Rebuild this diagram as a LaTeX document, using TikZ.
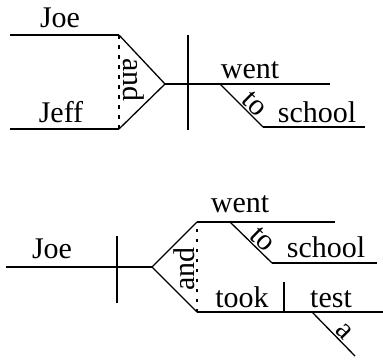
\documentclass[tikz,border=0pt]{standalone}
\usepackage{fontspec}
\setmainfont{Liberation Serif}

\begin{document}
\begin{tikzpicture}[x = 1pt, y = -1pt, line width = 1.3pt,
	every node/.style = {font = \fontsize{30}{32}\selectfont, inner sep = 1.5pt},
	word/.style = {anchor = base},
	slant/.style = {sloped, anchor = south},
	joint/.style = {dash pattern = on 3.5pt off 6.5pt}]

	\useasboundingbox (0, 0) rectangle (383, 359);

	% Joe and Jeff went to school
	\coordinate (JoeL)  at ( 10,  35);
	\coordinate (JoeR)  at (119,  35);
	\coordinate (JeffL) at ( 10, 129);
	\coordinate (JeffR) at (119, 129);
	\coordinate (Fork)  at (165,  84);
	\coordinate (Verb)  at (330,  84);
	\coordinate (CutT)  at (188,  35);
	\coordinate (CutB)  at (188, 130);
	\coordinate (ToA)   at (220,  84);
	\coordinate (ToB)   at (263, 127);
	\coordinate (ToC)   at (365, 127);

	\node (Joe)    at ( 60,  27) [word] {Joe};
	\node (Jeff)   at ( 61, 122) [word] {Jeff};
	\node (Went)   at (250,  78) [word] {went};
	\node (School) at (317, 122) [word] {school};

	\foreach \from/\to in {JoeL/JoeR, JoeR/Fork, JeffL/JeffR, JeffR/Fork,
	Fork/Verb, CutT/CutB, ToA/ToB, ToB/ToC}
		\draw (\from) -- (\to);
	\path[draw, joint] (JoeR) -- node (And) [slant, pos = 0.48, inner sep = 4pt] {and} (JeffR);
	\path (ToA) -- node (To) [slant, pos = 0.64, inner sep = 1pt] {to} (ToB);

	% Joe went to school and took a test
	\coordinate (SubL)  at (  6, 267);
	\coordinate (Fork2) at (152, 267);
	\coordinate (Cut2T) at (117, 236);
	\coordinate (Cut2B) at (117, 303);
	\coordinate (UpL)   at (197, 222);
	\coordinate (UpR)   at (335, 222);
	\coordinate (LoL)   at (197, 312);
	\coordinate (LoR)   at (383, 312);
	\coordinate (To2A)  at (230, 222);
	\coordinate (To2B)  at (272, 263);
	\coordinate (To2C)  at (377, 263);
	\coordinate (ObjT)  at (284, 282);
	\coordinate (ObjB)  at (284, 312);
	\coordinate (ArtA)  at (312, 312);
	\coordinate (ArtB)  at (355, 356);

	\node (Joe2)    at ( 52, 258) [word] {Joe};
	\node (Went2)   at (240, 212) [word] {went};
	\node (School2) at (326, 257) [word] {school};
	\node (Took)    at (242, 307) [word] {took};
	\node (Test)    at (331, 307) [word] {test};

	\foreach \from/\to in {SubL/Fork2, Cut2T/Cut2B, Fork2/UpL, Fork2/LoL, UpL/UpR,
	LoL/LoR, To2A/To2B, To2B/To2C, ObjT/ObjB, ArtA/ArtB}
		\draw (\from) -- (\to);
	\path[draw, joint] (LoL) -- node (And2) [slant, pos = 0.48] {and} (UpL);
	\path (To2A) -- node (To2) [slant, pos = 0.60, inner sep = 1pt] {to} (To2B);
	\path (ArtA) -- node (Art) [slant, pos = 0.58] {a} (ArtB);

\end{tikzpicture}
\end{document}
